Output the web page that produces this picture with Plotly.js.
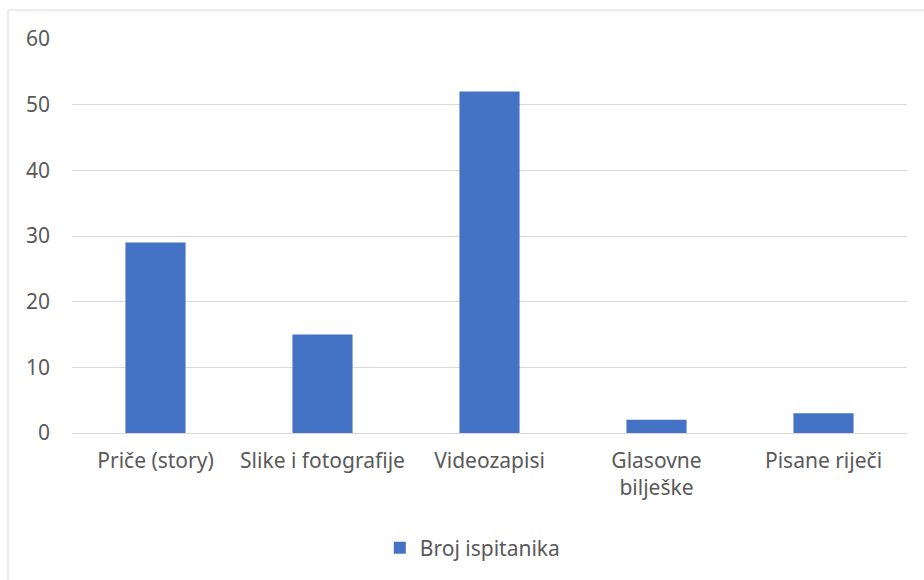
<!DOCTYPE html>
<html>
<head>
<meta charset="utf-8">
<script src="https://cdn.plot.ly/plotly-3.0.1.min.js"></script>
<style>html,body{margin:0;padding:0;background:#fff;}#chart{width:924px;height:580px;}</style>
</head>
<body>
<div id="chart"></div>
<script>
const categories = ["Priče (story)", "Slike i fotografije", "Videozapisi", "Glasovne<br>bilješke", "Pisane riječi"];
const values = [29, 15, 52, 2, 3];
const seriesName = "Broj ispitanika";
const yTicks = [0, 10, 20, 30, 40, 50, 60];

const font = {family: "Noto Sans, Open Sans, sans-serif", size: 21, color: "#595959"};

Plotly.newPlot("chart", [{
  type: "bar",
  x: categories,
  y: values,
  name: seriesName,
  marker: {color: "#4472c4"},
  showlegend: true,
  hoverinfo: "x+y"
}], {
  width: 924, height: 580,
  margin: {l: 72, r: 17, t: 39, b: 146},
  paper_bgcolor: "#ffffff",
  plot_bgcolor: "#ffffff",
  font: font,
  bargap: 0.64,
  showlegend: true,
  legend: {orientation: "h", x: 0.48, xanchor: "center", y: -0.289, yanchor: "middle", font: font, itemwidth: 30},
  xaxis: {
    type: "category",
    showgrid: false, zeroline: false, showline: false,
    ticks: "", tickfont: font, ticklabelstandoff: 13
  },
  yaxis: {
    range: [0, 60], tickvals: yTicks, ticktext: yTicks.map(String),
    showgrid: true, gridcolor: "#d9d9d9", gridwidth: 1,
    zeroline: true, zerolinecolor: "#d9d9d9", zerolinewidth: 1,
    showline: false, ticks: "", tickfont: font, ticklabelstandoff: 21
  },
  shapes: [{
    type: "rect", xref: "paper", yref: "paper",
    x0: -0.0766, x1: 1.2, y0: -0.6, y1: 1.0734,
    line: {color: "#d9d9d9", width: 1}, fillcolor: "rgba(0,0,0,0)", layer: "below"
  }]
}, {displayModeBar: false, staticPlot: false});
</script>
</body>
</html>
